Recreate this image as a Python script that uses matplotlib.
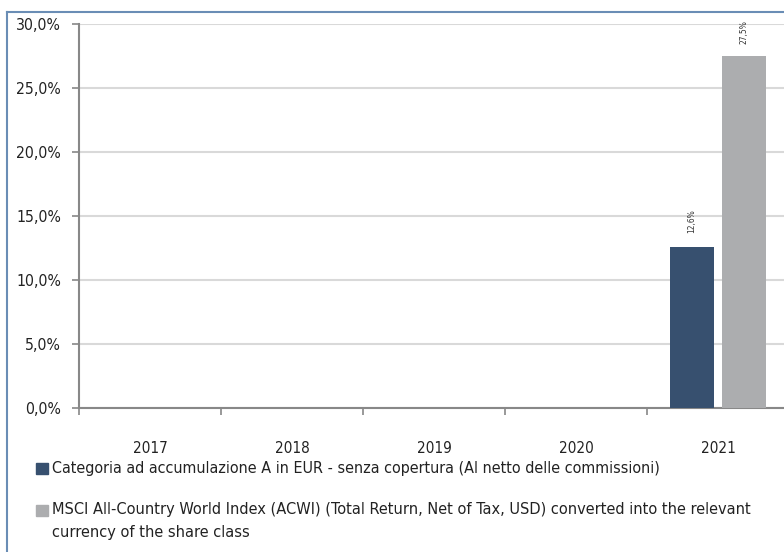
import matplotlib.pyplot as plt
from matplotlib.lines import Line2D
from matplotlib.patches import Rectangle
import numpy as np

years = ['2017', '2018', '2019', '2020', '2021']
fund = [np.nan, np.nan, np.nan, np.nan, 12.6]
index = [np.nan, np.nan, np.nan, np.nan, 27.5]
fund_label = 'Categoria ad accumulazione A in EUR - senza copertura (Al netto delle commissioni)'
index_label = ('MSCI All-Country World Index (ACWI) (Total Return, Net of Tax, USD) converted into the relevant\n'
               'currency of the share class')

plt.rcParams['font.family'] = ['DejaVu Sans']
plt.rcParams['font.stretch'] = 'condensed'

dark = '#37506f'
grey = '#acadaf'
txt = '#222222'

fig = plt.figure(figsize=(7.84, 5.52), dpi=100)
ax = fig.add_axes([79 / 784, 1 - 408 / 552, 710 / 784, 384 / 552])

x = np.arange(len(years))
w = 0.31
ax.bar(x - 0.183, fund, width=w, color=dark, zorder=3)
ax.bar(x + 0.183, index, width=w, color=grey, zorder=3)

# value labels, rotated
for xi, v in zip(x, fund):
    if not np.isnan(v):
        ax.text(xi - 0.183, v + 1.1, f'{v:.1f}%'.replace('.', ','), rotation=90,
                ha='center', va='bottom', fontsize=6, color='#333333')
for xi, v in zip(x, index):
    if not np.isnan(v):
        ax.text(xi + 0.183, v + 0.9, f'{v:.1f}%'.replace('.', ','), rotation=90,
                ha='center', va='bottom', fontsize=6, color='#333333')

ax.set_xlim(-0.5, 4.5)
ax.set_ylim(0, 30)
yt = np.arange(0, 31, 5)
ax.set_yticks(yt)
ax.set_yticklabels([f'{t:.1f}%'.replace('.', ',') for t in yt])
ax.set_xticks(np.arange(-0.5, 5, 1))
ax.set_xticklabels([])
ax.set_xticks(x, minor=True)
ax.set_xticklabels(years, minor=True)
ax.tick_params(axis='x', which='minor', length=0, pad=24, labelsize=11, labelcolor=txt)
ax.tick_params(axis='x', which='major', length=5, color='#888888', width=1.2)
ax.tick_params(axis='y', length=5, color='#888888', width=1.2, labelsize=11.3, labelcolor=txt, pad=8)

ax.grid(axis='y', color='#d9d9d9', linewidth=1.5, zorder=0)
for s in ['top', 'right']:
    ax.spines[s].set_visible(False)
for s in ['left', 'bottom']:
    ax.spines[s].set_color('#888888')
    ax.spines[s].set_linewidth(1.5)

# outer frame
fig.add_artist(Line2D([7 / 784, 1], [1 - 12 / 552, 1 - 12 / 552], color='#6a8db5', lw=1.5))
fig.add_artist(Line2D([7 / 784, 7 / 784], [0, 1 - 12 / 552], color='#6a8db5', lw=1.5))

# legend
fig.add_artist(Rectangle((36 / 784, 1 - 474 / 552), 12 / 784, 11 / 552, color=dark))
fig.text(52 / 784, 1 - 468 / 552, fund_label, fontsize=11.5, va='center', color=txt)
fig.add_artist(Rectangle((36 / 784, 1 - 516 / 552), 12 / 784, 11 / 552, color=grey))
fig.text(52 / 784, 1 - 502 / 552, index_label, fontsize=11.7, va='top', color=txt,
         linespacing=1.65)

fig.savefig('out.png', dpi=100)
